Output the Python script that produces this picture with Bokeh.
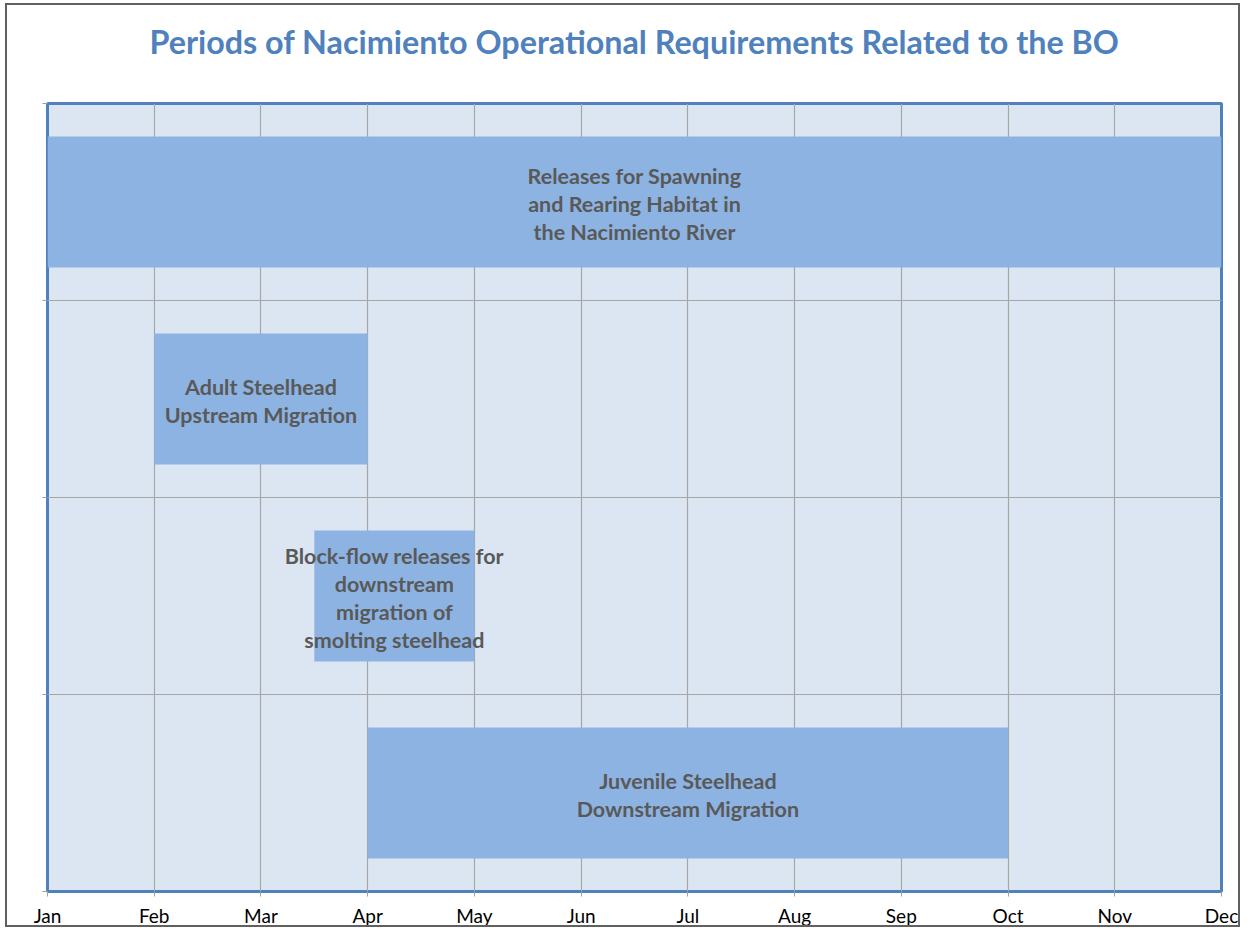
from bokeh.plotting import figure
from bokeh.models import FixedTicker, ColumnDataSource, Range1d
from bokeh.core.properties import value
from bokeh.embed import file_html
from bokeh.resources import INLINE

title_text = "Periods of Nacimiento Operational Requirements Related to the BO"
months = ["Jan", "Feb", "Mar", "Apr", "May", "Jun", "Jul", "Aug", "Sep", "Oct", "Nov", "Dec"]
tasks = [
    "Releases for Spawning\nand Rearing Habitat in\nthe Nacimiento River",
    "Adult Steelhead\nUpstream Migration",
    "Block-flow releases for\ndownstream\nmigration of\nsmolting steelhead",
    "Juvenile Steelhead\nDownstream Migration",
]
start_month = [0, 1, 2.5, 3]
end_month = [11, 3, 4, 9]

n = len(tasks)
rows = [n - i - 0.5 for i in range(n)]
mids = [(s + e) / 2 for s, e in zip(start_month, end_month)]
src = ColumnDataSource(dict(y=rows, left=start_month, right=end_month, mid=mids, label=tasks))

p = figure(width=1235, height=924, output_backend="svg", toolbar_location=None,
           x_range=Range1d(0, len(months) - 1), y_range=Range1d(0, n),
           min_border_left=40, min_border_right=21, min_border_bottom=38, min_border_top=98,
           background_fill_color="#DCE6F2", border_fill_color="white",
           outline_line_color="#4F81BD", outline_line_width=3,
           styles={"border": "2px solid #606060", "margin": "3px 0 0 5px"})

p.title.text = title_text
p.title.text_font = "Lato"
p.title.text_font_style = "bold"
p.title.text_font_size = "32.3px"
p.title.text_color = "#4F81BD"
p.title.align = "center"
p.title.offset = 8
p.title.vertical_align = "top"
p.title.standoff = 0
p.title.padding = (0, 0, 0, 41)

p.hbar(y="y", left="left", right="right", height=0.665, source=src,
       fill_color="#8DB3E2", line_color=None)
p.text(x="mid", y="y", text="label", source=src, text_align="center", text_baseline="middle",
       text_font=value("Lato"), text_font_style="bold", text_font_size="21.5px",
       text_color="#595959", text_line_height=1.08, y_offset=2)

p.xaxis.ticker = FixedTicker(ticks=list(range(len(months))))
p.xaxis.major_label_overrides = {i: m for i, m in enumerate(months)}
p.xaxis.major_label_text_font = "Lato"
p.xaxis.major_label_text_font_size = "19px"
p.xaxis.major_label_text_color = "black"
p.xaxis.major_label_standoff = 7
p.xaxis.major_tick_in = 0
p.xaxis.major_tick_out = 5
p.xaxis.minor_tick_line_color = None
p.xaxis.major_tick_line_color = "#A0A0A0"
p.xaxis.axis_line_color = None

p.yaxis.ticker = FixedTicker(ticks=list(range(n + 1)))
p.yaxis.major_label_overrides = {i: "" for i in range(n + 1)}
p.yaxis.major_tick_in = 0
p.yaxis.major_tick_out = 5
p.yaxis.minor_tick_line_color = None
p.yaxis.major_tick_line_color = "#A0A0A0"
p.yaxis.axis_line_color = None

p.xgrid.ticker = FixedTicker(ticks=list(range(len(months))))
p.xgrid.grid_line_color = "#A6A6A6"
p.xgrid.grid_line_width = 1.2
p.ygrid.ticker = FixedTicker(ticks=list(range(n + 1)))
p.ygrid.grid_line_color = "#A6A6A6"
p.ygrid.grid_line_width = 1.2

open("out.html", "w").write(file_html(p, INLINE))
